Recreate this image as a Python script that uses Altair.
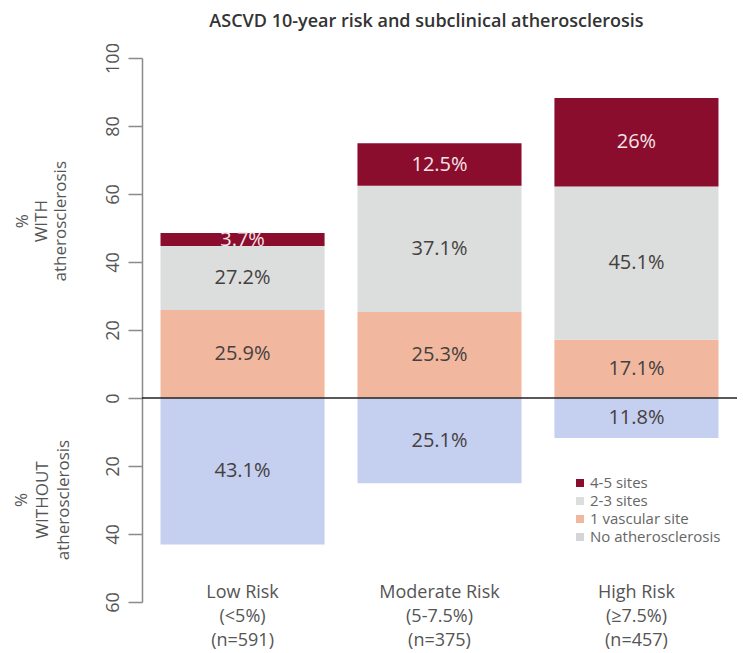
import altair as alt
import pandas as pd

# ---- data ----
categories = ["Low Risk\n(<5%)\n(n=591)", "Moderate Risk\n(5-7.5%)\n(n=375)", "High Risk\n(≥7.5%)\n(n=457)"]
# printed percentages
no_athero = [43.1, 25.1, 11.8]
one_site = [25.9, 25.3, 17.1]
two_three = [27.2, 37.1, 45.1]
four_five = [3.7, 12.5, 26.0]
# segment heights as drawn in the picture (the Low-risk upper segments are drawn shorter)
two_three_drawn = [18.8, 37.1, 45.1]
four_five_drawn = [3.8, 12.5, 26.0]

series_names = ["4-5 sites", "2-3 sites", "1 vascular site", "No atherosclerosis"]
bar_colors = ["#8a0d2e", "#dcdddd", "#f1b89f", "#c5cff0"]
legend_colors = ["#8a0d2e", "#dcdddd", "#f1b89f", "#d3d5d7"]
y_ticks = [-60, -40, -20, 0, 20, 40, 60, 80, 100]

FONT = "Open Sans"

rows = []
for i, cat in enumerate(categories):
    v0, v1 = no_athero[i], one_site[i]
    d2, d3 = two_three_drawn[i], four_five_drawn[i]
    segs = [
        ("No atherosclerosis", 0.0, -v0, no_athero[i]),
        ("1 vascular site", 0.0, v1, one_site[i]),
        ("2-3 sites", v1, v1 + d2, two_three[i]),
        ("4-5 sites", v1 + d2, v1 + d2 + d3, four_five[i]),
    ]
    for name, a, b, v in segs:
        rows.append({
            "cat": cat, "series": name, "y0": a, "y1": b,
            "mid": (a + b) / 2, "label": f"{v:g}%",
            "dark": name == "4-5 sites",
        })
df = pd.DataFrame(rows)

xenc = alt.X("cat:N", sort=categories,
             scale=alt.Scale(paddingInner=0.167, paddingOuter=0.094),
             axis=alt.Axis(title=None, labelAngle=0, domain=False, ticks=False, tickSize=0,
                           labelExpr="split(datum.label, '\\n')",
                           labelFont=FONT, labelFontSize=18, labelColor="#555555",
                           labelLineHeight=24, labelPadding=-19))
yscale = alt.Scale(domain=[-60, 100], nice=False, zero=False)

bars = alt.Chart(df).mark_bar().encode(
    x=xenc,
    y=alt.Y("y0:Q", scale=yscale,
            axis=alt.Axis(title=None, values=y_ticks, labelExpr="abs(datum.value)",
                          grid=False, domainColor="#8a8a8a", domainWidth=1.5,
                          tickColor="#8a8a8a", tickWidth=1.5, tickSize=14,
                          labelAngle=270, labelAlign="center", labelBaseline="bottom",
                          labelPadding=6, labelFont=FONT, labelFontSize=18,
                          labelColor="#555555")),
    y2="y1:Q",
    color=alt.Color("series:N", scale=alt.Scale(domain=series_names, range=bar_colors), legend=None),
)

labels_light = alt.Chart(df).transform_filter("!datum.dark").mark_text(
    font=FONT, fontSize=20, color="#454040", baseline="middle"
).encode(x=alt.X("cat:N", sort=categories), y=alt.Y("mid:Q"), text="label:N")

labels_dark = alt.Chart(df).transform_filter("datum.dark").mark_text(
    font=FONT, fontSize=20, color="#f6e4e8", baseline="middle"
).encode(x=alt.X("cat:N", sort=categories), y=alt.Y("mid:Q"), text="label:N")

one = pd.DataFrame({"k": [0]})
zero_line = alt.Chart(one).mark_rule(color="#222222", strokeWidth=1.5).encode(y=alt.datum(0))

title_with = alt.Chart(one).mark_text(
    text=["%", "WITH", "atherosclerosis"], angle=270, lineHeight=19,
    font=FONT, fontSize=17, color="#555555", baseline="middle", align="center"
).encode(x=alt.value(-119), y=alt.datum(52))

title_without = alt.Chart(one).mark_text(
    text=["%", "WITHOUT", "atherosclerosis"], angle=270, lineHeight=21,
    font=FONT, fontSize=17, color="#555555", baseline="middle", align="center"
).encode(x=alt.value(-120), y=alt.datum(-30))

legend_layers = []
for i, (name, col) in enumerate(zip(series_names, legend_colors)):
    ypix = 425 + i * 18
    legend_layers.append(
        alt.Chart(one).mark_square(size=64, color=col, opacity=1).encode(
            x=alt.value(438), y=alt.value(ypix)))
    legend_layers.append(
        alt.Chart(one).mark_text(text=name, font=FONT, fontSize=15, color="#666666",
                                 align="left", baseline="middle").encode(
            x=alt.value(448), y=alt.value(ypix)))

chart = alt.layer(
    bars, labels_light, labels_dark, zero_line, title_with, title_without, *legend_layers
).properties(
    width=595, height=544,
    title=alt.TitleParams("ASCVD 10-year risk and subclinical atherosclerosis",
                          font=FONT, fontSize=18, fontWeight=600, color="#333333",
                          anchor="middle", dx=-13, offset=12),
    autosize=alt.AutoSizeParams(type="none"),
    padding={"left": 134, "top": 50, "right": 0, "bottom": 51},
).configure_view(stroke=None)

chart.save("out.html", embed_options={"renderer": "svg", "actions": False})
